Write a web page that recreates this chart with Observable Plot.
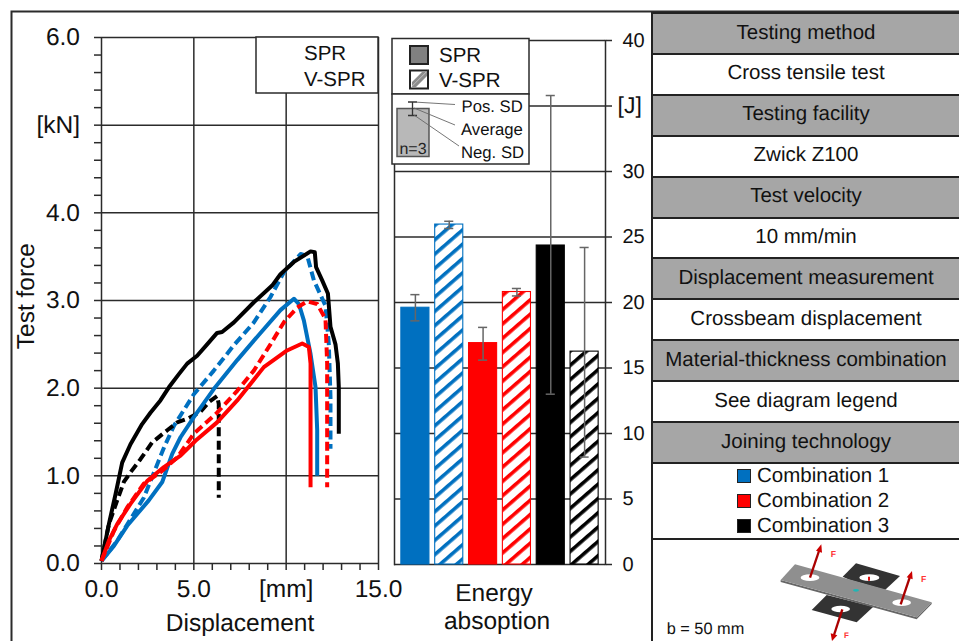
<!DOCTYPE html>
<html>
<head>
<meta charset="utf-8">
<style>
html,body{margin:0;padding:0;background:#fff;width:959px;height:641px;overflow:hidden;font-family:"Liberation Sans",Arial,sans-serif;color:#111;text-rendering:geometricPrecision}
#page{position:relative;width:959px;height:641px;overflow:hidden}
#page>svg,#page>div.layer{position:absolute;left:0;top:0}
.cell{position:absolute;left:651px;width:308px;box-sizing:border-box;display:flex;align-items:center;justify-content:center;font-size:20.5px;border-top:2px solid #222;border-left:2px solid #222;padding-bottom:2px}
.gray{background:#a6a6a6}
.white{background:#fff}
.combo{display:flex;align-items:center;height:25px;width:138px;white-space:nowrap}
.combo i{display:block;flex:none;border:1.5px solid #222;margin-right:6px;box-sizing:border-box;width:14px;height:14px}
</style>
<script src="https://cdn.jsdelivr.net/npm/d3@7"></script>
<script src="https://cdn.jsdelivr.net/npm/@observablehq/plot@0.6"></script>
</head>
<body>
<div id="page"></div>
<script>
// ---- Force-displacement curves: [displacement mm, force kN] ----
const blackSolid = [[0,.03],[.40,.45],[.76,.79],[1.12,1.15],[1.57,1.36],[2.20,1.59],[2.65,1.72],[3.19,1.86],[3.65,2.01],[4.19,2.16],[4.64,2.28],[5.18,2.37],[5.72,2.50],[6.26,2.63],[6.53,2.64],[7.17,2.75],[8.25,2.98],[9.24,3.17],[9.69,3.30],[10.42,3.44],[11.32,3.56],[11.55,3.55],[11.62,3.38],[11.95,3.23],[12.26,3.08],[12.40,2.70],[12.67,2.50],[12.80,2.28],[12.85,2.01],[12.85,1.48]];
const blackDashed = [[0,.03],[.40,.45],[.85,.72],[1.21,.93],[1.57,1.04],[2.11,1.19],[2.74,1.38],[3.56,1.52],[4.10,1.61],[4.64,1.65],[5.36,1.73],[5.81,1.84],[6.26,1.91],[6.35,1.82],[6.35,.75]];
const blueSolid = [[0,.03],[.67,.20],[1.39,.43],[2.56,.72],[3.29,.93],[3.83,1.25],[4.28,1.44],[5.0,1.67],[6.08,1.99],[7.35,2.32],[8.61,2.63],[9.69,2.89],[10.42,3.02],[10.69,2.96],[10.96,2.77],[11.32,2.39],[11.59,2.01],[11.68,1.52],[11.68,1.0]];
const blueDashed = [[0,.03],[.85,.26],[2.29,.75],[2.92,1.08],[3.38,1.32],[3.92,1.57],[5.0,1.93],[6.08,2.20],[7.17,2.49],[8.25,2.75],[9.15,3.04],[9.87,3.32],[10.78,3.53],[11.14,3.51],[11.5,3.23],[12.13,2.94],[12.31,2.50],[12.40,1.90],[12.40,1.31]];
const redSolid = [[0,.03],[.40,.26],[.85,.45],[1.57,.68],[2.47,.94],[3.38,1.10],[4.28,1.23],[5.09,1.40],[6.26,1.61],[7.35,1.86],[8.79,2.24],[10.05,2.43],[10.87,2.51],[11.23,2.47],[11.32,2.28],[11.32,.87]];
const redDashed = [[0,.03],[.67,.37],[1.39,.64],[2.29,.91],[3.19,1.04],[4.10,1.21],[5.0,1.48],[6.26,1.72],[7.35,1.97],[8.25,2.20],[9.15,2.50],[9.87,2.75],[10.6,2.92],[11.14,2.99],[11.68,2.96],[12.13,2.79],[12.22,2.28],[12.22,.87]];

// ---- Energy absorption bars ----
const barNames = ["C1 SPR","C1 V-SPR","C2 SPR","C2 V-SPR","C3 SPR","C3 V-SPR"];
const energy   = [19.6,25.95,16.9,20.8,24.35,16.25];
const energyHi = [20.6,26.2,18.1,21.07,35.8,24.2];
const energyLo = [18.6,25.65,15.6,20.5,13.0,8.2];
const barStroke = ["#0070c0","#0070c0","#ff0000","#ff0000","#000000","#000000"];
const barFill = ["#0070c0","url(#hatch0)","#ff0000","url(#hatch1)","#000000","url(#hatch2)"];
const hatchColors = ["#0070c0","#ff0000","#000000"];

// ---- Tick labels ----
const forceTicks = d3.range(0,31).map(i=>i/5);
const forceLabels = new Map([[0,"0.0"],[1,"1.0"],[2,"2.0"],[3,"3.0"],[4,"4.0"],[5,"[kN]"],[6,"6.0"]]);
const dispTicks = d3.range(0,16);
const dispLabels = new Map([[0,"0.0"],[5,"5.0"],[10,"[mm]"],[15,"15.0"]]);
const energyTicks = [0,5,10,15,20,25,30,35,40];

// ---- Table ----
const tableRows = ["Testing method","Cross tensile test","Testing facility","Zwick Z100","Test velocity","10 mm/min","Displacement measurement","Crossbeam displacement","Material-thickness combination","See diagram legend","Joining technology"];
const combos = [["Combination 1","#0070c0"],["Combination 2","#ff0000"],["Combination 3","#000000"]];

const FONT = '"Liberation Sans", Arial, sans-serif';
const INK = "#2b2b2b";
const page = document.getElementById("page");

const lineStyle = {strokeWidth:4, strokeLinejoin:"round", strokeLinecap:"butt"};
const dash = "9 4.5";

const left = Plot.plot({
  width:959, height:641,
  marginLeft:101, marginRight:581, marginTop:37, marginBottom:78,
  style:{background:"transparent", fontFamily:FONT, color:"#111", overflow:"visible"},
  x:{domain:[0,15]},
  y:{domain:[0,6]},
  marks:[
    Plot.ruleY([0,1,2,3,4,5,6],{stroke:INK,strokeWidth:1.5}),
    Plot.ruleX([0,5,10,15],{stroke:INK,strokeWidth:1.5}),
    Plot.axisY({ticks:forceTicks,tickSize:7,tickPadding:14.5,fontSize:24.5,stroke:INK,strokeWidth:1.5,strokeOpacity:1,label:null,
      tickFormat:d=>forceLabels.get(d)||""}),
    Plot.axisX({ticks:dispTicks,tickSize:7,tickPadding:9.5,fontSize:24.5,stroke:INK,strokeWidth:1.5,strokeOpacity:1,label:null,
      tickFormat:d=>dispLabels.get(d)||""}),
    Plot.line(blueDashed,{stroke:"#0070c0",strokeDasharray:dash,...lineStyle}),
    Plot.line(blackDashed,{stroke:"#000",strokeDasharray:dash,...lineStyle}),
    Plot.line(blackSolid,{stroke:"#000",...lineStyle}),
    Plot.line(blueSolid,{stroke:"#0070c0",...lineStyle}),
    Plot.line(redDashed,{stroke:"#ff0000",strokeDasharray:dash,...lineStyle}),
    Plot.line(redSolid,{stroke:"#ff0000",...lineStyle}),
    Plot.text(["Test force"],{x:-4.06,y:3.05,rotate:-90,fontSize:24.5,fill:"#111"}),
    Plot.text(["Displacement"],{x:7.5,y:-0.68,fontSize:24.5,fill:"#111"})
  ]
});
page.appendChild(left);

const bars = barNames.map((name,i)=>({name,v:energy[i],hi:energyHi[i],lo:energyLo[i],stroke:barStroke[i],fill:barFill[i]}));

const right = Plot.plot({
  width:959, height:641,
  marginLeft:394, marginRight:354, marginTop:40, marginBottom:77,
  style:{background:"transparent", fontFamily:FONT, color:"#111", overflow:"visible"},
  x:{type:"band",domain:barNames,range:[395.1,603.9],padding:0.17,round:false,axis:null},
  y:{domain:[0,40]},
  color:{type:"identity"},
  marks:[
    () => d3.create("svg:defs").html(hatchColors.map((c,i)=>
      `<pattern id="hatch${i}" patternUnits="userSpaceOnUse" width="10.8" height="10.8" patternTransform="rotate(-41)"><rect width="10.8" height="10.8" fill="#fff"/><rect width="10.8" height="3.6" fill="${c}"/></pattern>`).join("")).node(),
    Plot.ruleY(energyTicks,{stroke:INK,strokeWidth:1.5}),
    Plot.frame({anchor:"left",stroke:INK,strokeWidth:1.5}),
    Plot.frame({anchor:"right",stroke:INK,strokeWidth:1.5}),
    Plot.axisY({anchor:"right",ticks:energyTicks,tickSize:6,tickPadding:11,fontSize:20,stroke:INK,strokeWidth:1.5,strokeOpacity:1,label:null,textAnchor:"start",
      tickFormat:d=>d===35?"":String(d)}),
    Plot.barY(bars,{x:"name",y:"v",fill:"fill",stroke:"stroke",strokeWidth:1.1}),
    Plot.ruleX(bars,{x:"name",y1:"lo",y2:"hi",stroke:"#666",strokeWidth:1.5}),
    Plot.tickY(bars,{x:"name",y:"hi",stroke:"#666",strokeWidth:1.5,insetLeft:9.5,insetRight:9.5}),
    Plot.tickY(bars,{x:"name",y:"lo",stroke:"#666",strokeWidth:1.5,insetLeft:9.5,insetRight:9.5}),
    Plot.text(["[J]"],{y:35,frameAnchor:"right",dx:12,textAnchor:"start",fontSize:23,fill:"#111"}),
    Plot.text(["Energy"],{frameAnchor:"bottom",dx:-6,dy:36,fontSize:24.5,fill:"#111"}),
    Plot.text(["absoption"],{frameAnchor:"bottom",dx:-3,dy:64,fontSize:24.5,fill:"#111"})
  ]
});
page.appendChild(right);

// overlay: frame lines, boxes, legends
const SVGNS = "http://www.w3.org/2000/svg";
const overlay = document.createElementNS(SVGNS,"svg");
overlay.setAttribute("width",959); overlay.setAttribute("height",641);
overlay.setAttribute("font-family",FONT);
overlay.innerHTML = `
<path d="M11.5 641V11.5H959" fill="none" stroke="${INK}" stroke-width="2"/>
<rect x="256" y="37" width="122" height="56" fill="#fff" stroke="${INK}" stroke-width="1.5"/>
<text x="304" y="59.5" font-size="20.5" fill="#111">SPR</text>
<text x="304" y="85.5" font-size="20.5" fill="#111">V-SPR</text>
<rect x="392" y="38.5" width="137" height="55.5" fill="#fff" stroke="${INK}" stroke-width="1.5"/>
<rect x="392" y="94" width="137" height="70" fill="#fff" stroke="${INK}" stroke-width="1.5"/>
<rect x="410" y="46" width="18" height="18" fill="#808080" stroke="#222" stroke-width="2"/>
<rect x="410" y="70.5" width="18" height="18" fill="#fff" stroke="#222" stroke-width="2"/>
<path d="M411 87.5 L427 71.5 L427 76 L415.5 87.5Z M412 82 L422 72 L426 72 L412 86Z" fill="#8c8c8c"/>
<text x="439" y="62" font-size="20.5" fill="#111">SPR</text>
<text x="439" y="87" font-size="20.5" fill="#111">V-SPR</text>
<rect x="397" y="108.5" width="32" height="48" fill="#b8b8b8" stroke="#555" stroke-width="1.5"/>
<path d="M412.5 102V115.5M408 102H417M408 115.5H417" stroke="#333" stroke-width="1.3" fill="none"/>
<path d="M414 102 L455 104.5 M414 108 L455 125 M414 115 L459 146" stroke="#666" stroke-width="0.9" fill="none"/>
<text x="413" y="154" font-size="16" text-anchor="middle" fill="#222">n=3</text>
<text x="461.5" y="112" font-size="16.7" fill="#111">Pos. SD</text>
<text x="461" y="135" font-size="16.7" fill="#111">Average</text>
<text x="461" y="158" font-size="16.7" fill="#111">Neg. SD</text>`;
page.appendChild(overlay);

// table on the right
const tableLayer = document.createElement("div");
tableLayer.className = "layer";
tableRows.forEach((t,i)=>{
  const c = document.createElement("div");
  const top = 12 + i*40.9;
  c.className = "cell " + (i%2===0?"gray":"white");
  c.style.top = top+"px"; c.style.height = "41px";
  c.textContent = t;
  tableLayer.appendChild(c);
});
const comboCell = document.createElement("div");
comboCell.className = "cell white";
comboCell.style.cssText = "top:462px;height:76px;flex-direction:column;padding-bottom:0;";
combos.forEach(([t,col])=>{
  const row = document.createElement("div"); row.className="combo";
  const sw = document.createElement("i"); sw.style.background = col;
  const label = document.createElement("span"); label.textContent = t;
  row.append(sw,label); comboCell.appendChild(row);
});
tableLayer.appendChild(comboCell);
const imgCell = document.createElement("div");
imgCell.className = "cell white";
imgCell.style.cssText = "top:538px;height:103px;";
tableLayer.appendChild(imgCell);
page.appendChild(tableLayer);

// specimen sketch
const sketch = document.createElementNS(SVGNS,"svg");
sketch.setAttribute("width",309); sketch.setAttribute("height",221);
sketch.setAttribute("viewBox","0 0 927 663");
sketch.setAttribute("font-family",FONT);
sketch.style.cssText = "left:650px;top:420px";
sketch.innerHTML = `
<polygon points="578,470 618,430 750,468 705,510 600,480" fill="#333"/>
<ellipse cx="658" cy="473" rx="30" ry="10" fill="#fff"/>
<path d="M657 482V470" stroke="#d11" stroke-width="6"/>
<polygon points="530,525 485,570 620,607 670,560" fill="#333"/>
<ellipse cx="572" cy="567" rx="28" ry="10" fill="#fff"/>
<polygon points="392,480 392,486 800,598 845,552 845,547 800,592" fill="#666"/>
<polygon points="392,480 435,433 845,547 800,592" fill="#8f8f8f"/>
<ellipse cx="480" cy="473" rx="28" ry="10" fill="#fff"/>
<ellipse cx="755" cy="548" rx="28" ry="10" fill="#fff"/>
<ellipse cx="618" cy="511" rx="9" ry="4" fill="#21b5b5"/>
<path d="M480 473L508 390" stroke="#a00" stroke-width="7"/><path d="M514 373L498 392L516 398Z" fill="#c00"/>
<path d="M752 553L780 470" stroke="#a00" stroke-width="7"/><path d="M786 453L770 472L788 478Z" fill="#c00"/>
<path d="M577 568L552 645" stroke="#a00" stroke-width="7"/><path d="M546 663L542 640L562 646Z" fill="#c00"/>
<text x="542" y="410" font-size="26" font-weight="bold" fill="#f33">F</text>
<text x="813" y="486" font-size="26" font-weight="bold" fill="#f33">F</text>
<text x="582" y="654" font-size="24" font-weight="bold" fill="#f33">F</text>
<text x="50" y="642" font-size="49" fill="#111">b = 50 mm</text>`;
page.appendChild(sketch);
</script>
</body>
</html>
